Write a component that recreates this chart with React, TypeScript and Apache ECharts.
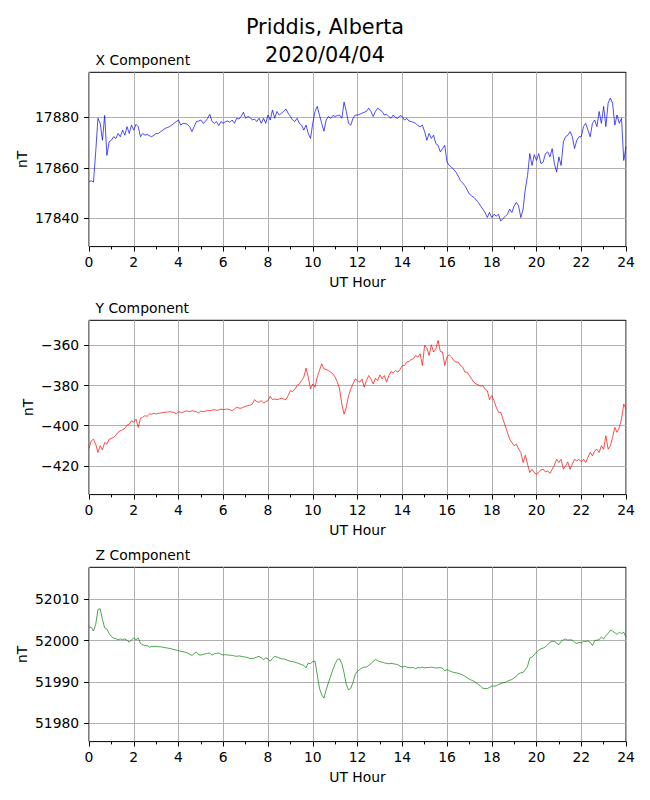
import React, { useEffect, useRef } from "react";
import * as echarts from "echarts";

const STEP_HOURS = 0.1;

const X_COMPONENT = [
  17854.5, 17854.9, 17854.3, 17866.3, 17879.6, 17877.6, 17870.9, 17880.7, 17864.9, 17870.3,
  17870.9, 17872.3, 17871.6, 17873.6, 17872.3, 17874.9, 17872.9, 17876.3, 17873.6, 17876.9,
  17874.9, 17877.2, 17876.3, 17872.3, 17873.6, 17872.9, 17873.2, 17872.7, 17872.3, 17872.9,
  17873.6, 17873.6, 17874.3, 17874.9, 17875.6, 17875.9, 17876.3, 17876.9, 17877.6, 17878.3,
  17878.9, 17876.9, 17877.6, 17877.5, 17877.2, 17876.3, 17874.3, 17876.3, 17878.3, 17878.5,
  17878.9, 17877.6, 17878.3, 17879.6, 17881.2, 17878.3, 17877.6, 17878.3, 17876.7, 17878.3,
  17877.6, 17878.3, 17878.5, 17878.0, 17878.9, 17877.6, 17879.6, 17879.3, 17880.3, 17882.0,
  17879.6, 17880.3, 17879.9, 17878.9, 17879.3, 17878.3, 17879.6, 17877.6, 17879.6, 17877.6,
  17880.9, 17878.9, 17882.9, 17879.6, 17882.3, 17880.9, 17881.6, 17882.3, 17883.3, 17881.6,
  17880.3, 17878.9, 17878.3, 17879.6, 17877.6, 17876.9, 17874.9, 17876.9, 17873.6, 17871.6,
  17877.6, 17882.3, 17884.3, 17880.9, 17877.6, 17874.5, 17878.9, 17880.3, 17879.6, 17880.7,
  17880.3, 17880.7, 17880.9, 17879.6, 17886.0, 17882.3, 17877.6, 17876.9, 17879.6, 17880.9,
  17880.9, 17881.2, 17881.6, 17882.0, 17882.3, 17883.6, 17882.3, 17880.3, 17882.3, 17883.6,
  17882.9, 17882.3, 17880.9, 17881.2, 17880.3, 17879.6, 17880.9, 17879.9, 17879.6, 17880.7,
  17880.3, 17878.9, 17879.6, 17878.5, 17878.3, 17878.0, 17877.6, 17876.7, 17876.3, 17876.9,
  17874.3, 17870.9, 17873.6, 17871.6, 17872.9, 17869.6, 17868.9, 17866.3, 17867.6, 17868.9,
  17862.3, 17860.9, 17860.3, 17859.3, 17858.3, 17856.7, 17854.9, 17854.0, 17852.9, 17851.3,
  17849.6, 17848.9, 17848.3, 17847.3, 17846.3, 17844.9, 17843.6, 17842.3, 17840.3, 17842.3,
  17840.3, 17841.6, 17840.9, 17841.6, 17838.9, 17839.9, 17840.7, 17841.6, 17843.6, 17842.3,
  17844.9, 17846.3, 17844.9, 17840.3, 17843.6, 17851.6, 17856.9, 17865.6, 17860.9, 17865.2,
  17862.9, 17865.6, 17861.6, 17862.3, 17865.6, 17866.3, 17864.3, 17867.6, 17861.6, 17858.3,
  17864.3, 17860.9, 17870.3, 17872.3, 17872.9, 17874.3, 17872.3, 17867.6, 17870.9, 17872.3,
  17872.3, 17876.3, 17877.6, 17874.9, 17872.3, 17877.6, 17878.9, 17876.3, 17882.3, 17877.6,
  17884.3, 17876.3, 17885.6, 17887.6, 17885.6, 17876.9, 17880.9, 17877.6, 17879.6, 17862.9,
  17868.3,
];

const Y_COMPONENT = [
  -411.3, -407.5, -406.7, -409.2, -413.3, -410.0, -412.0, -408.3, -409.2, -406.7,
  -406.3, -405.8, -404.7, -403.3, -402.5, -402.0, -401.3, -399.7, -399.2, -397.5,
  -398.3, -396.7, -400.8, -396.3, -395.8, -395.0, -395.3, -394.2, -394.2, -393.8,
  -394.2, -393.8, -393.7, -393.5, -393.3, -393.2, -393.0, -393.2, -393.3, -394.2,
  -393.0, -393.3, -393.3, -392.8, -392.7, -393.0, -392.5, -392.8, -393.0, -393.7,
  -392.7, -393.0, -392.8, -392.3, -392.5, -392.2, -392.0, -392.3, -392.2, -391.7,
  -392.0, -391.8, -391.7, -392.0, -392.5, -391.7, -390.8, -391.2, -391.3, -390.7,
  -390.3, -390.0, -389.7, -389.2, -387.0, -388.0, -388.3, -387.5, -388.7, -388.0,
  -387.5, -385.3, -387.0, -386.7, -387.0, -386.7, -386.3, -386.7, -387.0, -385.0,
  -382.5, -383.0, -381.7, -380.0, -379.2, -377.5, -375.8, -371.3, -375.8, -381.7,
  -379.2, -380.8, -375.8, -372.5, -369.2, -371.7, -372.0, -372.5, -373.3, -374.2,
  -375.8, -378.3, -381.7, -389.2, -394.2, -390.8, -385.0, -381.7, -379.2, -376.7,
  -377.5, -378.3, -376.7, -380.8, -377.5, -375.0, -376.7, -379.2, -376.3, -377.5,
  -374.7, -376.7, -375.0, -378.3, -375.0, -373.0, -373.7, -372.5, -373.3, -372.0,
  -370.0, -370.0, -368.3, -368.0, -367.0, -366.7, -365.0, -365.8, -364.2, -370.0,
  -360.0, -361.3, -365.0, -359.7, -363.3, -361.7, -357.5, -363.0, -363.3, -370.0,
  -365.8, -364.7, -365.8, -367.5, -368.3, -368.3, -370.0, -370.8, -373.3, -373.3,
  -375.0, -376.7, -378.3, -379.2, -379.7, -380.3, -380.0, -381.7, -382.5, -387.0,
  -385.0, -387.5, -390.8, -393.3, -393.3, -396.7, -400.0, -403.3, -406.7, -408.3,
  -410.0, -409.2, -411.7, -413.3, -418.3, -414.7, -419.2, -423.3, -421.7, -423.3,
  -424.2, -423.0, -422.0, -421.7, -423.0, -422.5, -423.7, -421.7, -419.7, -416.7,
  -418.3, -416.7, -421.7, -420.0, -418.0, -421.7, -419.2, -416.7, -417.5, -416.7,
  -418.0, -416.7, -418.3, -415.8, -413.3, -415.0, -412.5, -411.7, -413.3, -410.0,
  -411.7, -405.0, -411.7, -410.0, -405.8, -400.8, -403.3, -400.8, -396.7, -389.2,
  -391.7,
];

const Z_COMPONENT = [
  52003.3, 52003.2, 52002.3, 52003.9, 52007.5, 52007.7, 52005.1, 52003.1, 52002.8, 52001.7,
  52001.0, 52000.6, 52000.5, 52000.2, 52000.4, 52000.2, 52000.4, 52000.1, 51999.6, 52000.2,
  52000.6, 52000.2, 52000.6, 51999.3, 51999.0, 51998.8, 51998.8, 51998.4, 51998.6, 51998.6,
  51998.6, 51998.5, 51998.5, 51998.4, 51998.3, 51998.2, 51998.1, 51998.0, 51997.8, 51997.7,
  51997.6, 51997.4, 51997.3, 51997.2, 51997.0, 51996.7, 51996.4, 51996.9, 51997.2, 51996.6,
  51996.5, 51996.7, 51996.8, 51996.9, 51997.0, 51996.5, 51996.8, 51996.9, 51997.0, 51996.7,
  51996.5, 51996.6, 51996.5, 51996.5, 51996.4, 51996.3, 51996.2, 51996.3, 51996.2, 51996.1,
  51996.0, 51995.9, 51995.6, 51995.7, 51995.8, 51996.0, 51996.2, 51995.8, 51995.4, 51995.8,
  51995.6, 51995.0, 51995.7, 51996.2, 51996.0, 51995.8, 51995.6, 51995.6, 51995.4, 51995.2,
  51995.0, 51994.9, 51994.8, 51994.6, 51994.4, 51994.2, 51994.0, 51993.4, 51994.6, 51994.4,
  51995.0, 51995.0, 51991.8, 51988.5, 51986.9, 51986.1, 51988.1, 51989.8, 51991.4, 51993.0,
  51994.4, 51995.4, 51995.6, 51994.4, 51992.2, 51989.4, 51988.1, 51988.5, 51989.9, 51991.8,
  51992.6, 51993.0, 51993.4, 51993.6, 51993.6, 51994.0, 51994.4, 51995.0, 51995.4, 51995.2,
  51994.9, 51994.8, 51994.6, 51994.5, 51994.4, 51994.5, 51994.4, 51994.3, 51994.2, 51993.8,
  51993.6, 51993.8, 51993.6, 51993.5, 51993.4, 51993.5, 51993.2, 51993.5, 51993.4, 51993.6,
  51993.4, 51993.5, 51993.5, 51993.6, 51993.5, 51993.4, 51993.4, 51993.5, 51993.3, 51992.7,
  51993.0, 51992.7, 51992.5, 51992.3, 51992.2, 51992.1, 51991.9, 51991.7, 51991.4, 51991.0,
  51990.7, 51990.4, 51990.2, 51989.8, 51989.4, 51989.0, 51988.5, 51988.4, 51988.4, 51988.7,
  51989.0, 51989.0, 51989.1, 51989.4, 51989.6, 51989.8, 51989.9, 51990.2, 51990.4, 51990.6,
  51991.0, 51991.4, 51992.0, 51992.2, 51992.3, 51993.0, 51993.8, 51995.8, 51996.0, 51996.6,
  51997.2, 51997.7, 51998.0, 51998.2, 51998.5, 51999.0, 51999.6, 51999.8, 51999.8, 51999.4,
  51999.0, 51999.8, 52000.2, 52000.4, 52000.1, 52000.2, 52000.1, 51999.6, 51999.3, 51999.6,
  51999.4, 51999.8, 51999.8, 51999.9, 51999.6, 51998.8, 52000.0, 52000.1, 52000.2, 52000.9,
  52000.4, 52001.2, 52001.7, 52002.5, 52002.3, 52001.9, 52001.5, 52002.0, 52001.7, 52002.0,
  52000.8,
];

const X_TICKS = [17840, 17860, 17880];
const Y_TICKS = [-420, -400, -380, -360];
const Z_TICKS = [51980, 51990, 52000, 52010];

const X_RANGE = [17828.8, 17897.8];
const Y_RANGE = [-434.3, -347.5];
const Z_RANGE = [51975.6, 52017.7];

const HOUR_MIN = 0;
const HOUR_MAX = 24;
const HOUR_STEP = 2;

const PANEL_TITLES = ["X Component", "Y Component", "Z Component"];
const PANEL_COLORS = ["#0000ff", "#ff0000", "#008000"];
const TITLE_LINES = ["Priddis, Alberta", "2020/04/04"];
const X_AXIS_LABEL = "UT Hour";
const Y_AXIS_LABEL = "nT";

const FONT = "DejaVu Sans";

function toPairs(vals: number[]) {
  return vals.map((v, i) => [Math.round(i * STEP_HOURS * 10) / 10, v]);
}

function fmt(v: number) {
  return v < 0 ? "\u2212" + Math.abs(v) : String(v);
}

export default function App() {
  const ref = useRef<HTMLDivElement | null>(null);

  useEffect(() => {
    if (!ref.current) return;
    const chart = echarts.init(ref.current, null, { renderer: "svg" });

    const panels = [
      { vals: X_COMPONENT, ticks: X_TICKS, range: X_RANGE, nTx: 21.5 },
      { vals: Y_COMPONENT, ticks: Y_TICKS, range: Y_RANGE, nTx: 28 },
      { vals: Z_COMPONENT, ticks: Z_TICKS, range: Z_RANGE, nTx: 21.5 },
    ];
    const tops = [72.3, 320.3, 567.3];
    const height = 174.3;
    const left = 89;
    const right = 24;

    const grid = tops.map((t) => ({
      left,
      right,
      top: t,
      height,
      show: true,
      borderColor: "#000",
      borderWidth: 1,
      backgroundColor: "transparent",
      containLabel: false,
      outerBoundsMode: "none",
    }));

    const labelStyle = { color: "#000", fontSize: 13.9, fontFamily: FONT };

    const xAxis = panels.map((_, i) => ({
      type: "value",
      gridIndex: i,
      min: HOUR_MIN,
      max: HOUR_MAX,
      interval: HOUR_STEP,
      axisLine: { show: false },
      axisTick: { show: true, length: 4.9, lineStyle: { color: "#000", width: 1 } },
      minorTick: { show: true, splitNumber: 2, length: 2.8, lineStyle: { color: "#000", width: 1 } },
      splitLine: { show: true, lineStyle: { color: "#b0b0b0", width: 1 } },
      axisLabel: { ...labelStyle, margin: 8 },
      name: X_AXIS_LABEL,
      nameLocation: "middle",
      nameGap: 28,
      nameTextStyle: { ...labelStyle },
    }));

    const yAxis = panels.map((p, i) => ({
      type: "value",
      gridIndex: i,
      min: p.range[0],
      max: p.range[1],
      scale: true,
      axisLine: { show: false },
      axisTick: { show: true, length: 4.9, customValues: p.ticks, lineStyle: { color: "#000", width: 1 } },
      splitLine: { show: true, lineStyle: { color: "#b0b0b0", width: 1 } },
      axisLabel: { ...labelStyle, margin: 9.8, customValues: p.ticks, formatter: (v: number) => fmt(v) },
    }));

    const series = panels.map((p, i) => ({
      type: "line",
      xAxisIndex: i,
      yAxisIndex: i,
      data: toPairs(p.vals),
      showSymbol: false,
      symbol: "none",
      silent: true,
      lineStyle: { color: PANEL_COLORS[i], width: 0.7 },
      itemStyle: { color: PANEL_COLORS[i] },
    }));

    const textEl = (text: string, x: number, y: number, size: number, align: string, rotation = 0) => ({
      type: "text",
      x,
      y,
      rotation,
      silent: true,
      style: {
        text,
        fill: "#000",
        fontSize: size,
        fontFamily: FONT,
        align,
        verticalAlign: "middle",
        textAlign: align,
        textVerticalAlign: "middle",
      },
    });

    const graphic: any[] = [
      textEl(TITLE_LINES[0], 325, 26.5, 20.8, "center"),
      textEl(TITLE_LINES[1], 325, 54.5, 20.8, "center"),
    ];
    tops.forEach((t, i) => {
      graphic.push(textEl(PANEL_TITLES[i], 95.5, t - 12.8, 13.9, "left"));
      graphic.push(textEl(Y_AXIS_LABEL, panels[i].nTx, t + height / 2, 13.9, "center", Math.PI / 2));
    });

    chart.setOption({
      animation: false,
      backgroundColor: "#fff",
      grid,
      xAxis,
      yAxis,
      series,
      graphic,
    } as any);

    return () => chart.dispose();
  }, []);

  return (
    <div
      ref={ref}
      style={{ position: "fixed", left: 0, top: 0, width: 650, height: 800, background: "#fff" }}
    />
  );
}
